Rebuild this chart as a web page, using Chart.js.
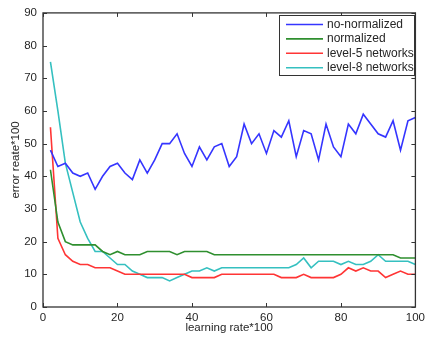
<!DOCTYPE html>
<html>
<head>
<meta charset="utf-8">
<script src="https://cdn.jsdelivr.net/npm/chart.js@4.4.1/dist/chart.umd.min.js"></script>
<style>
  html, body { margin: 0; padding: 0; background: #fff; }
  #wrap { width: 429px; height: 338px; }
</style>
</head>
<body>
<div id="wrap"><canvas id="grafico" width="429" height="338"></canvas></div>
<script>
// tasa de aprendizaje (x) y error*100 por serie
const TASAS = [2,4,6,8,10,12,14,16,18,20,22,24,26,28,30,32,34,36,38,40,42,44,46,48,50,52,54,56,58,60,62,64,66,68,70,72,74,76,78,80,82,84,86,88,90,92,94,96,98,100];
const NO_NORMALIZADO = [48,43,44,41,40, 41,36,40,43,44, 41,39,45,41,45, 50,50,53,47,43, 49,45,49,50,43, 46,56,50,53,47, 54,52,57,46,54, 53,45,56,49,46, 56,53,59,56,53, 52,57,48,57,58];
const NORMALIZADO = [42,26,20,19,19, 19,19,17,16,17, 16,16,16,17,17, 17,17,16,17,17, 17,17,16,16,16, 16,16,16,16,16, 16,16,16,16,16, 16,16,16,16,16, 16,16,16,16,16, 16,16,15,15,15];
const NIVEL5 = [55,21,16,14,13, 13,12,12,12,11, 10,10,10,10,10, 10,10,10,10,9, 9,9,9,10,10, 10,10,10,10,10, 10,9,9,9,10, 9,9,9,9,10, 12,11,12,11,11, 9,10,11,10,10];
const NIVEL8 = [75,60,44,35,26, 21,17,17,15,13, 13,11,10,9,9, 9,8,9,10,11, 11,12,11,12,12, 12,12,12,12,12, 12,12,12,13,15, 12,14,14,14,13, 14,13,13,14,16, 14,14,14,14,13];

const TICKS_X = [0, 20, 40, 60, 80, 100];
const TICKS_Y = [0, 10, 20, 30, 40, 50, 60, 70, 80, 90];

const SERIES = [
  { label: 'no-normalized',    datos: NO_NORMALIZADO, color: '#3535ff' },
  { label: 'normalized',       datos: NORMALIZADO,    color: '#2f8f2f' },
  { label: 'level-5 networks', datos: NIVEL5,         color: '#ff3535' },
  { label: 'level-8 networks', datos: NIVEL8,         color: '#35c0c0' },
];

const FUENTE = '"Liberation Sans", Arial, sans-serif';
const TINTA = '#262626';

// Marco tipo MATLAB: caja completa con marcas hacia adentro en los cuatro lados
const marco = {
  id: 'marco',
  afterDatasetsDraw(chart) {
    const { ctx, chartArea: a, scales: { x, y } } = chart;
    const L = 4;
    ctx.save();
    ctx.strokeStyle = '#333';
    ctx.lineWidth = 1.3;
    ctx.strokeRect(a.left, a.top, a.right - a.left, a.bottom - a.top);
    ctx.lineWidth = 1;
    ctx.beginPath();
    TICKS_X.forEach(v => {
      const px = Math.round(x.getPixelForValue(v)) + 0.5;
      ctx.moveTo(px, a.bottom); ctx.lineTo(px, a.bottom - L);
      ctx.moveTo(px, a.top);    ctx.lineTo(px, a.top + L);
    });
    TICKS_Y.forEach(v => {
      const py = Math.round(y.getPixelForValue(v)) + 0.5;
      ctx.moveTo(a.left, py);  ctx.lineTo(a.left + L, py);
      ctx.moveTo(a.right, py); ctx.lineTo(a.right - L, py);
    });
    ctx.stroke();
    ctx.restore();
  },
  afterDraw(chart) {
    // leyenda en recuadro, arriba a la derecha dentro del área
    const { ctx } = chart;
    const caja = { x: 279.5, y: 15.5, w: 135, h: 60 };
    ctx.save();
    ctx.fillStyle = '#fff';
    ctx.fillRect(caja.x, caja.y, caja.w, caja.h);
    ctx.strokeStyle = '#333';
    ctx.lineWidth = 1;
    ctx.strokeRect(caja.x, caja.y, caja.w, caja.h);
    ctx.font = '12px ' + FUENTE;
    ctx.textBaseline = 'middle';
    chart.data.datasets.forEach((ds, i) => {
      const yy = 24.5 + i * 14.4;
      ctx.strokeStyle = ds.borderColor;
      ctx.lineWidth = 1.6;
      ctx.beginPath();
      ctx.moveTo(286, yy); ctx.lineTo(323, yy);
      ctx.stroke();
      ctx.fillStyle = TINTA;
      ctx.fillText(ds.label, 327, yy);
    });
    ctx.restore();
  },
};

new Chart(document.getElementById('grafico'), {
  type: 'line',
  data: {
    datasets: SERIES.map(s => ({
      label: s.label,
      data: TASAS.map((t, i) => ({ x: t, y: s.datos[i] })),
      borderColor: s.color,
      backgroundColor: s.color,
      borderWidth: 1.6,
      pointRadius: 0,
      tension: 0,
      fill: false,
    })),
  },
  options: {
    responsive: false,
    animation: false,
    layout: { padding: { top: 10, right: 9, left: 0, bottom: 0 } },
    scales: {
      x: {
        type: 'linear', min: 0, max: 100,
        afterBuildTicks: s => { s.ticks = TICKS_X.map(v => ({ value: v })); },
        afterFit: s => { s.height = 31; },
        grid: { display: false, drawTicks: false },
        border: { display: false },
        ticks: { color: TINTA, padding: 4, maxRotation: 0, font: { family: FUENTE, size: 11.5 } },
        title: {
          display: true, text: 'learning rate*100', color: TINTA,
          padding: { top: 0, bottom: 3 }, font: { family: FUENTE, size: 11.5 },
        },
      },
      y: {
        type: 'linear', min: 0, max: 90,
        afterBuildTicks: s => { s.ticks = TICKS_Y.map(v => ({ value: v })); },
        afterFit: s => { s.width = 43; },
        grid: { display: false, drawTicks: false },
        border: { display: false },
        ticks: { color: TINTA, padding: 6, font: { family: FUENTE, size: 11.5 } },
        title: {
          display: true, text: 'error reate*100', color: TINTA,
          padding: { top: 9, bottom: 0 }, font: { family: FUENTE, size: 11.5 },
        },
      },
    },
    plugins: {
      legend: { display: false },
      tooltip: { enabled: false },
    },
  },
  plugins: [marco],
});
</script>
</body>
</html>
